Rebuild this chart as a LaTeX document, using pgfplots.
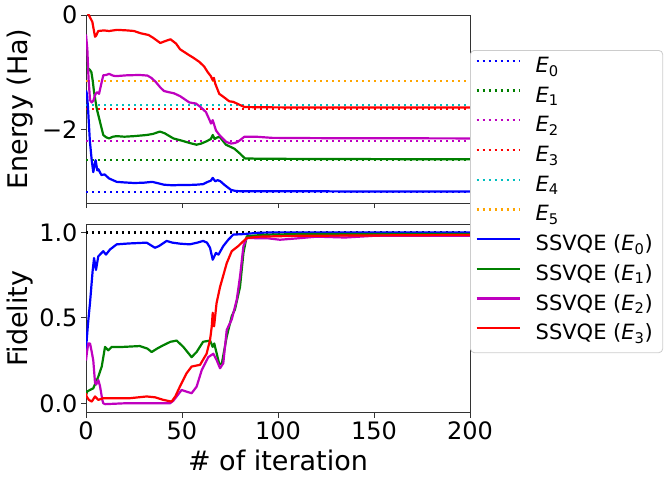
\documentclass[border=0pt]{standalone}
\usepackage{fontspec}
\setmainfont{DejaVu Sans}
\usepackage{pgfplots}
\pgfplotsset{compat=1.18}
\definecolor{mgreen}{rgb}{0,0.5,0}
\definecolor{mmag}{rgb}{0.75,0,0.75}
\definecolor{mcyan}{rgb}{0,0.75,0.75}
\definecolor{morange}{rgb}{1,0.647,0}
\pgfplotsset{
  myax/.style={
    scale only axis, width=384pt, height=188pt,
    xmin=0, xmax=200,
    axis line style={line width=0.9pt, black!80},
    tick align=outside, major tick length=5pt, tick pos=left,
    tick style={line width=0.9pt, black!80},
    tick label style={font=\fontsize{24}{28}\selectfont},
    label style={font=\fontsize{27}{32}\selectfont},
    xtick={0,50,100,150,200},
  },
  dotl/.style={line width=2.3pt, dash pattern=on 2.3pt off 3.7pt, line cap=butt},
  sol/.style={line width=2.2pt, line join=round},
}
\begin{document}
\begin{tikzpicture}
\path[use as bounding box] (0,0) rectangle (664pt,485pt);
% ---------- bottom axis: fidelity ----------
\begin{axis}[myax, at={(86pt,72.3pt)}, anchor=south west,
  ymin=-0.055, ymax=1.045,
  ytick={0,0.5,1}, yticklabels={0.0,0.5,1.0},
  xticklabels={0,50,100,150,200},
  ylabel={Fidelity},
  ylabel style={at={(axis description cs:-0.172,0.5)}, anchor=center},
  xlabel={\# of iteration},
  xlabel style={at={(axis description cs:0.5,0)}, anchor=base, yshift=-58pt},
]
\addplot[black, dotl] coordinates {(0,1) (200,1)};
\addplot[blue, sol] coordinates {(0,0.30) (0.3,0.36) (1,0.46) (2.1,0.59) (3.5,0.78) (4.2,0.85) (5.2,0.78) (6.4,0.86) (9,0.89) (10.4,0.87) (12.5,0.90) (16,0.93) (22,0.935) (31.6,0.94) (35.9,0.91) (38,0.92) (42,0.95) (45,0.94) (49,0.934) (54,0.93) (58,0.94) (61,0.95) (63,0.94) (64.6,0.91) (66,0.84) (67.7,0.88) (69,0.87) (71.5,0.92) (74.1,0.957) (76.7,0.987) (82,0.99) (90,0.998) (101,1.0) (200,1.0)};
\addplot[mgreen, sol] coordinates {(0,0.05) (0.7,0.07) (3.8,0.088) (6.4,0.156) (8.2,0.215) (9.9,0.33) (11.6,0.31) (13.4,0.33) (19.4,0.33) (28,0.335) (32,0.32) (34.2,0.30) (37,0.32) (40.3,0.34) (44,0.36) (47.2,0.367) (50.7,0.33) (55,0.27) (57.6,0.30) (61,0.36) (64.6,0.367) (66,0.33) (66.8,0.35) (69.4,0.23) (70.7,0.23) (73.3,0.39) (75.9,0.51) (77.6,0.55) (80.2,0.68) (82,0.88) (83.7,0.977) (92.4,0.986) (110,0.99) (200,0.99)};
\addplot[mmag, sol] coordinates {(0,0.25) (0.5,0.30) (1.2,0.35) (2.1,0.35) (3,0.30) (3.8,0.25) (4.7,0.12) (5.3,0.11) (6.4,0.137) (7.3,0.10) (8.5,0.02) (9,0.0) (10,-0.005) (20,0.0) (30,0.0) (43.75,0.0) (45.5,0.015) (47.2,0.04) (49.8,0.078) (52.4,0.068) (55,0.059) (57.6,0.097) (60.3,0.195) (63.7,0.27) (66.3,0.29) (68,0.254) (69.8,0.205) (71.5,0.234) (73.3,0.43) (75.9,0.49) (78.5,0.605) (80.2,0.74) (82,0.92) (83.7,0.967) (95,0.965) (101,0.957) (110,0.965) (120,0.975) (135,0.97) (150,0.98) (200,0.98)};
\addplot[red, sol] coordinates {(0,0.06) (0.3,0.04) (1.5,0.02) (3,0.01) (4.7,0.04) (6.4,0.02) (9,0.03) (15,0.03) (23,0.03) (31.6,0.04) (36,0.035) (40.3,0.02) (44.6,0.01) (46.5,0.04) (49,0.10) (52.4,0.176) (55,0.215) (59.4,0.225) (62.8,0.29) (64.6,0.37) (65.5,0.45) (66,0.53) (66.7,0.45) (68,0.586) (69.8,0.68) (73.3,0.82) (75.9,0.89) (79.3,0.92) (83.7,0.967) (90,0.975) (110,0.98) (200,0.985)};
\end{axis}
% ---------- top axis: energy ----------
\begin{axis}[myax, at={(86pt,282pt)}, anchor=south west,
  ymin=-3.29, ymax=0,
  ytick={-2,0}, yticklabels={−2,0},
  xticklabel style={opacity=0},
  ylabel={Energy (Ha)},
  ylabel style={at={(axis description cs:-0.172,0.5)}, anchor=center},
  legend cell align=left,
  legend image code/.code={\draw[#1] (0pt,7pt) -- (43pt,7pt); \path (53pt,7pt);},
  legend style={at={(1.0,0.8138)}, anchor=north west,
    draw=black!20, line width=0.8pt, rounded corners=4pt,
    fill=white, fill opacity=0.8, text opacity=1, draw opacity=1,
    font=\fontsize{21}{25}\selectfont,
    inner xsep=5pt, inner ysep=5pt, row sep=4.7pt,
    nodes={text height=15pt, text depth=6pt, inner ysep=2pt, inner xsep=5pt}},
]
\addplot[blue, dotl] coordinates {(0,-3.10) (200,-3.10)};
\addlegendentry{\textit{E}\textsubscript{0}}
\addplot[mgreen, dotl] coordinates {(0,-2.54) (200,-2.54)};
\addlegendentry{\textit{E}\textsubscript{1}}
\addplot[mmag, dotl] coordinates {(0,-2.20) (200,-2.20)};
\addlegendentry{\textit{E}\textsubscript{2}}
\addplot[red, dotl] coordinates {(0,-1.64) (200,-1.64)};
\addlegendentry{\textit{E}\textsubscript{3}}
\addplot[mcyan, dotl] coordinates {(0,-1.58) (200,-1.58)};
\addlegendentry{\textit{E}\textsubscript{4}}
\addplot[morange, dotl] coordinates {(0,-1.15) (200,-1.15)};
\addlegendentry{\textit{E}\textsubscript{5}}
\addplot[blue, sol] coordinates {(0,-1.32) (0.5,-1.38) (1,-1.6) (2,-2.2) (3,-2.55) (3.8,-2.75) (4.5,-2.62) (5,-2.54) (5.9,-2.72) (6.5,-2.70) (8,-2.80) (9.7,-2.79) (12,-2.86) (16,-2.92) (20,-2.93) (25,-2.94) (30,-2.935) (34.5,-2.92) (37,-2.94) (40.6,-2.97) (45,-2.98) (49,-2.975) (53,-2.975) (57.3,-2.97) (61,-2.96) (63.4,-2.92) (65,-2.90) (66,-2.85) (67.3,-2.91) (68.6,-2.89) (70,-2.91) (72,-2.97) (75.5,-3.06) (78,-3.08) (81.6,-3.085) (90,-3.085) (120,-3.085) (150,-3.09) (200,-3.09)};
\addlegendentry{SSVQE (\textit{E}\textsubscript{0})}
\addplot[mgreen, sol] coordinates {(0,-0.90) (1,-0.93) (2,-0.96) (2.8,-1.0) (3.5,-1.15) (4.2,-1.35) (5.6,-1.64) (7.3,-1.87) (9,-2.10) (10.5,-2.14) (12,-2.16) (14,-2.13) (16,-2.12) (20,-2.13) (25,-2.12) (31.6,-2.10) (35,-2.08) (38.5,-2.04) (41,-2.07) (45.5,-2.16) (50,-2.20) (54,-2.24) (57.6,-2.27) (60,-2.25) (62.8,-2.21) (65,-2.17) (66,-2.10) (67,-2.17) (68.5,-2.14) (69.8,-2.14) (72.9,-2.27) (77.3,-2.34) (80,-2.42) (82.8,-2.51) (90,-2.515) (120,-2.52) (200,-2.525)};
\addlegendentry{SSVQE (\textit{E}\textsubscript{1})}
\addplot[mmag, sol] coordinates {(0,-0.34) (0.7,-0.60) (1.3,-1.1) (2.1,-1.49) (3,-1.53) (3.8,-1.50) (5,-1.38) (5.9,-1.35) (6.8,-1.38) (8,-1.20) (9,-1.055) (10.5,-1.05) (12,-1.03) (14,-1.06) (15.5,-1.07) (21.5,-1.055) (28,-1.05) (32,-1.06) (34,-1.10) (36.3,-1.17) (38.5,-1.26) (40.6,-1.33) (43,-1.35) (45.8,-1.37) (49,-1.42) (53.8,-1.53) (57.3,-1.55) (60,-1.62) (62.5,-1.70) (64.5,-1.85) (65.1,-1.90) (66,-1.84) (67.7,-2.02) (69.5,-2.10) (71.2,-2.16) (73,-2.22) (75.5,-2.25) (77.5,-2.24) (79,-2.22) (81,-2.17) (82.5,-2.13) (88.5,-2.13) (96.9,-2.15) (120,-2.155) (200,-2.16)};
\addlegendentry{SSVQE (\textit{E}\textsubscript{2})}
\addplot[red, sol] coordinates {(0,0.08) (1.6,-0.01) (3.3,-0.12) (4.7,-0.38) (5.3,-0.36) (6.4,-0.28) (9.4,-0.27) (12,-0.28) (16.3,-0.26) (21.5,-0.27) (25,-0.28) (28.5,-0.32) (32.6,-0.35) (35,-0.40) (38.7,-0.49) (41,-0.46) (44,-0.425) (46.9,-0.50) (49,-0.60) (53.8,-0.705) (56,-0.75) (59,-0.82) (61.5,-0.90) (63.4,-1.0) (65,-1.07) (66,-1.14) (66.6,-1.10) (67.3,-1.20) (69.4,-1.38) (71.5,-1.43) (74.6,-1.51) (76.7,-1.52) (79.9,-1.57) (82.5,-1.61) (90,-1.615) (120,-1.62) (200,-1.62)};
\addlegendentry{SSVQE (\textit{E}\textsubscript{3})}
\end{axis}
\end{tikzpicture}
\end{document}
